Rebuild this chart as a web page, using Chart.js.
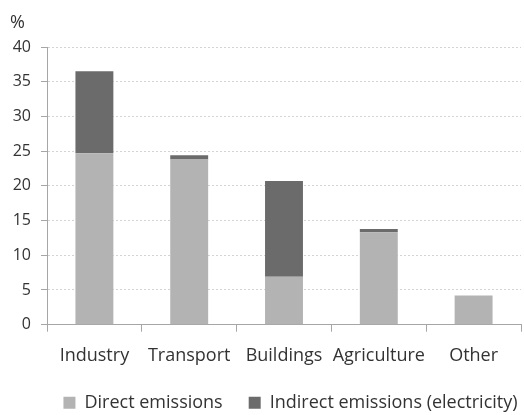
<!DOCTYPE html>
<html lang="en">
<head>
    <meta charset="UTF-8">
    <title>Emissions by sector</title>
    <script src="https://cdn.jsdelivr.net/npm/chart.js"></script>
    <style>
        body { margin: 0; background: #fff; }
        #wrap { width: 524px; height: 415px; }
    </style>
</head>
<body>
<div id="wrap"><canvas id="chart"></canvas></div>
<script>
const sectors = ['Industry', 'Transport', 'Buildings', 'Agriculture', 'Other'];
const directEmissions = [24.7, 23.8, 6.9, 13.3, 4.2];
const indirectEmissions = [11.8, 0.6, 13.8, 0.5, 0];
const yTicks = [0, 5, 10, 15, 20, 25, 30, 35, 40];

const family = '"Open Sans", Lato, sans-serif';
const textColor = '#333333';
const axisColor = '#a6a6a6';

// in the original the "%" unit and the legend sit a little right of where Chart.js puts them
const nudgeBoxes = {
    id: 'nudgeBoxes',
    afterLayout(chart) {
        chart.titleBlock.left += 10;
        chart.titleBlock.right += 10;
        chart.legend.left += 30;
        chart.legend.right += 30;
    }
};

new Chart(document.getElementById('chart'), {
    type: 'bar',
    data: {
        labels: sectors,
        datasets: [{
            label: 'Direct emissions',
            data: directEmissions,
            backgroundColor: '#b3b3b3',
            categoryPercentage: 1,
            barPercentage: 0.4
        }, {
            label: 'Indirect emissions (electricity)',
            data: indirectEmissions,
            backgroundColor: '#6b6b6b',
            categoryPercentage: 1,
            barPercentage: 0.4
        }]
    },
    plugins: [nudgeBoxes],
    options: {
        responsive: true,
        maintainAspectRatio: false,
        animation: false,
        layout: { padding: { left: 0, right: 3, top: 2, bottom: -6.7 } },
        plugins: {
            title: {
                display: true,
                text: '%',
                align: 'start',
                color: textColor,
                font: { family, size: 18, weight: 'normal' },
                padding: { top: 10, bottom: 13.4 }
            },
            legend: {
                position: 'bottom',
                labels: {
                    color: textColor,
                    font: { family, size: 18 },
                    boxWidth: 12,
                    boxHeight: 12,
                    padding: 26
                }
            },
            tooltip: { enabled: false }
        },
        scales: {
            x: {
                stacked: true,
                afterFit: axis => { axis.height = 43; },
                grid: {
                    offset: true,
                    drawOnChartArea: false,
                    drawTicks: true,
                    tickLength: 7,
                    color: axisColor
                },
                border: { color: axisColor },
                ticks: {
                    color: textColor,
                    font: { family, size: 18 },
                    padding: 13,
                    maxRotation: 0,
                    minRotation: 0,
                    autoSkip: false
                }
            },
            y: {
                stacked: true,
                min: 0,
                max: 40,
                afterBuildTicks: axis => { axis.ticks = yTicks.map(v => ({ value: v })); },
                afterFit: axis => { axis.width = 47; },
                grid: {
                    color: '#d4d4d4',
                    tickColor: axisColor,
                    tickLength: 6,
                    tickBorderDash: []
                },
                border: { color: axisColor, dash: [2, 2] },
                ticks: { color: textColor, font: { family, size: 16 }, padding: 10 }
            }
        }
    }
});
</script>
</body>
</html>
